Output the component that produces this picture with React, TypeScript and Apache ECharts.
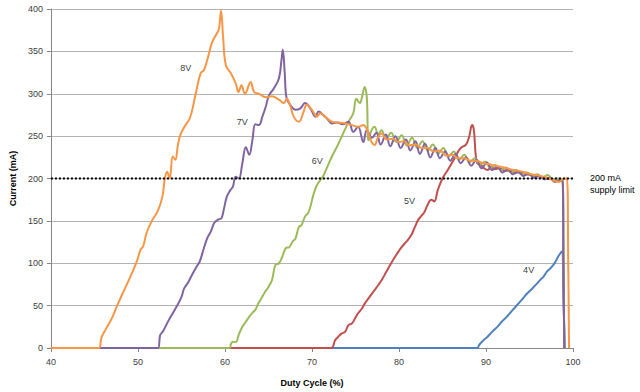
import React, { useEffect, useRef } from "react";
import * as echarts from "echarts";

const xTicks = { min: 40, max: 100, interval: 10 };
const yTicks = { min: 0, max: 400, interval: 50 };

const v8: number[][] = [[40,0],[45.5,0],[45.8,12],[46.3,22],[47,35],[47.7,52],[48.5,70],[49.3,88],[49.9,103],[50.3,116],[50.6,120],[51,136],[51.6,150],[52.3,162],[52.8,178],[53.1,200],[53.35,208],[53.65,200],[54.0,226],[54.3,222],[54.6,240],[54.9,252],[55.4,262],[56.0,272],[56.6,298],[57.2,324],[57.6,328],[58.1,345],[58.5,360],[59.0,370],[59.3,376],[59.55,398],[59.8,365],[60.1,334],[60.7,324],[61.25,312],[61.56,302],[61.9,310],[62.3,300],[62.96,314],[63.35,302],[63.9,300],[64.7,296],[65.4,297],[66.2,293],[66.8,289],[67.1,294],[67.5,286],[67.9,273],[68.5,267],[69.05,279],[69.4,287],[70.0,281],[70.6,273],[70.95,277],[71.5,273],[72.3,267],[73.05,266],[73.8,265],[74.6,263],[75.3,261],[75.9,263],[76.5,253],[76.85,243],[77.2,239.5],[77.6,249],[78.0,253],[78.6,246],[79.3,247],[80.0,243],[80.6,244],[81.2,239],[81.9,240],[82.6,236],[83.3,236],[84.0,232],[84.7,233],[85.4,227],[86.1,228],[86.8,224],[87.5,224],[88.2,221],[88.9,221],[89.6,218],[90.3,217],[91.0,215],[91.7,214],[92.4,212],[93.1,210],[93.8,209],[94.5,207],[95.2,205],[95.9,204],[96.6,202],[97.3,200],[97.9,197],[98.4,196],[98.8,199],[99.3,200],[99.45,100],[99.55,0]];

const v7: number[][] = [[40,0],[52.3,0],[52.55,15],[52.9,20],[53.5,32],[54.4,48],[55.0,60],[55.3,70],[55.8,78],[56.3,88],[56.8,97],[57.1,102],[57.5,115],[57.9,128],[58.4,138],[58.8,148],[59.3,152],[59.6,153],[59.9,165],[60.2,178],[60.6,186],[60.9,190],[61.25,202],[61.6,200],[62.0,218],[62.4,237],[62.8,228],[63.15,245],[63.5,264],[63.9,263],[64.3,273],[64.7,285],[65.06,298],[65.6,306],[66.2,318],[66.5,340],[66.65,352],[66.85,328],[67.0,300],[67.15,293],[67.5,287],[68.1,281],[68.7,283],[69.2,289],[69.8,283],[70.4,273],[70.76,279],[71.3,275],[71.8,270],[72.3,265],[72.9,266],[73.5,264],[74.2,267],[74.75,255],[75.3,261],[75.9,243],[76.3,257],[76.9,248],[77.4,254],[77.9,240],[78.5,252],[79.0,238],[79.6,250],[80.2,236],[80.8,246],[81.3,233],[81.9,244],[82.4,229],[83.0,241],[83.6,225],[84.2,236],[84.7,224],[85.3,232],[85.9,221],[86.5,229],[87.1,218],[87.7,225],[88.3,215],[88.9,222],[89.5,212],[90.1,219],[90.7,210],[91.3,214],[91.9,207],[92.5,211],[93.1,205],[93.7,208],[94.3,203],[94.9,206],[95.5,201],[96.1,203],[96.7,199],[97.3,201],[97.9,196],[98.4,198],[98.8,198],[98.9,100],[99.0,0]];

const v6: number[][] = [[40,0],[60.5,0],[60.7,5],[60.9,7.5],[61.25,7],[61.6,16],[62.0,25],[62.4,31],[62.8,37],[63.2,42],[63.5,45],[63.8,52],[64.1,57],[64.6,66],[65.0,72],[65.4,80],[65.8,98],[66.2,100],[66.6,108],[67.0,118],[67.4,119],[67.8,126],[68.1,129],[68.5,143],[68.8,145],[69.2,155],[69.6,160],[69.9,170],[70.2,182],[70.56,192],[70.95,198],[71.3,203],[71.9,217],[72.3,226],[72.9,238],[73.4,249],[73.8,258],[74.2,267],[74.75,277],[75.1,294],[75.5,289],[75.75,296],[76.05,308],[76.3,296],[76.5,245],[76.8,256],[77.2,261],[77.6,252],[78.0,257],[78.5,247],[79.1,254],[79.7,243],[80.3,251],[80.9,239],[81.5,248],[82.1,236],[82.7,244],[83.3,233],[83.9,240],[84.5,229],[85.1,236],[85.7,226],[86.3,232],[86.9,222],[87.5,228],[88.1,219],[88.7,224],[89.3,216],[89.9,220],[90.5,213],[91.1,216],[91.7,210],[92.3,213],[92.9,207],[93.5,210],[94.1,205],[94.7,207],[95.3,203],[95.9,205],[96.5,201],[97.1,204],[97.7,199],[98.2,200],[98.8,199],[98.9,100],[99.0,0]];

const v5: number[][] = [[40,0],[72.2,0],[72.65,9],[73.0,13],[73.4,17],[73.8,19],[74.2,27],[74.6,29],[75.0,36],[75.3,41],[75.7,46],[76.1,53],[76.6,60],[77.1,67],[77.6,74],[78.0,80],[78.5,89],[79.1,100],[79.7,110],[80.3,119],[80.9,126],[81.4,133],[81.8,142],[82.2,151],[82.5,155],[82.9,160],[83.3,169],[83.7,175],[84.06,173],[84.45,186],[85.0,200],[85.6,210],[86.3,222],[86.7,230],[87.1,236],[87.7,240],[88.06,249],[88.4,263],[88.6,258],[88.8,230],[89.0,218],[89.4,216],[89.8,212],[90.2,210],[90.6,214],[91.0,211],[91.6,212],[92.2,209],[92.8,209],[93.4,207],[94.0,207],[94.6,205],[95.2,204],[95.8,203],[96.4,202],[97.0,200],[97.6,199],[98.2,197],[98.8,198],[98.9,100],[99.0,0]];

const v4: number[][] = [[40,0],[89.0,0],[89.2,3.5],[89.6,8],[90.15,13],[90.7,19],[91.3,25],[91.8,31],[92.4,37],[93.0,44],[93.6,51],[94.2,58],[94.7,64],[95.3,70],[95.85,76],[96.3,81],[96.6,84],[97.0,90],[97.4,94],[97.75,98],[98.0,102],[98.3,108],[98.7,114],[98.9,60],[99.05,0]];

const supplyLimit: number[][] = [[40,200],[101.7,200]];

const seriesNames = ["4V", "5V", "6V", "7V", "8V"];
const seriesColors = ["#4F81BD", "#C0504D", "#9BBB59", "#8064A2", "#F79646"];
const seriesData = [v4, v5, v6, v7, v8];

// label anchor points [x, y] in data units
const labelPoints: [string, number, number][] = [
  ["8V", 55.5, 330],
  ["7V", 62.0, 266.5],
  ["6V", 70.6, 220.5],
  ["5V", 81.2, 173.5],
  ["4V", 94.9, 92],
];

const FONT = "'Liberation Sans', Arial, sans-serif";

export default function App() {
  const ref = useRef<HTMLDivElement>(null);
  useEffect(() => {
    if (!ref.current) return;
    const chart = echarts.init(ref.current, undefined, { renderer: "svg" });
    const lines = seriesData.map((d, i) => ({
      type: "line",
      name: seriesNames[i],
      data: d,
      showSymbol: false,
      symbol: "none",
      smooth: 0.4,
      lineStyle: { color: seriesColors[i], width: 2 },
      z: 3 + i,
    }));
    chart.setOption({
      animation: false,
      backgroundColor: "#ffffff",
      textStyle: { fontFamily: FONT },
      grid: { left: 47, right: 67, top: 9, bottom: 44, containLabel: false },
      xAxis: {
        type: "value",
        min: xTicks.min,
        max: xTicks.max,
        interval: xTicks.interval,
        name: "Duty Cycle (%)",
        nameLocation: "middle",
        nameGap: 30,
        nameTextStyle: { fontSize: 9, fontWeight: "bold", color: "#000", fontFamily: FONT },
        axisLine: { show: true, onZero: false, lineStyle: { color: "#868686", width: 1 } },
        axisTick: { show: true, length: 4, lineStyle: { color: "#868686" } },
        axisLabel: { fontSize: 9, color: "#404040", margin: 9, fontFamily: FONT },
        splitLine: { show: false },
      },
      yAxis: {
        type: "value",
        min: yTicks.min,
        max: yTicks.max,
        interval: yTicks.interval,
        name: "Current (mA)",
        nameLocation: "middle",
        nameGap: 32,
        nameRotate: 90,
        nameTextStyle: { fontSize: 9, fontWeight: "bold", color: "#000", fontFamily: FONT },
        axisLine: { show: true, lineStyle: { color: "#868686", width: 1 } },
        axisTick: { show: true, length: 4, lineStyle: { color: "#868686" } },
        axisLabel: { fontSize: 9, color: "#404040", margin: 8, fontFamily: FONT },
        splitLine: { show: true, lineStyle: { color: "#b3b3b3", width: 1 } },
      },
      series: [
        ...lines,
        {
          type: "line",
          name: "limit",
          data: supplyLimit,
          symbol: "none",
          clip: false,
          lineStyle: { color: "#000", width: 2, type: [2, 2] },
          z: 10,
        },
        {
          type: "scatter",
          name: "labels",
          data: labelPoints.map((p) => ({ name: p[0], value: [p[1], p[2]] })),
          symbolSize: 0,
          label: {
            show: true,
            position: "inside",
            formatter: (p: any) => p.name,
            fontSize: 9,
            color: "#000",
            fontFamily: FONT,
          },
          z: 12,
        },
      ],
      graphic: [
        {
          type: "text",
          left: 590,
          top: 172,
          style: {
            text: "200 mA\nsupply limit",
            fontSize: 9,
            lineHeight: 12,
            fill: "#000",
            fontFamily: FONT,
          },
        },
      ],
    });
    return () => chart.dispose();
  }, []);
  return <div ref={ref} style={{ width: 640, height: 392, position: "absolute", left: 0, top: 0 }} />;
}
